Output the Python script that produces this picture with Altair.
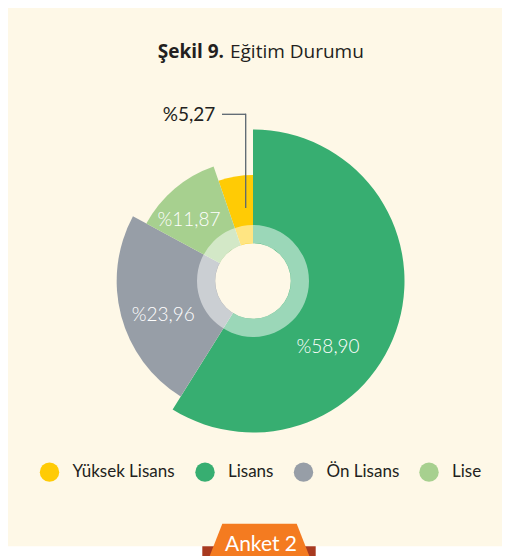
import altair as alt
import pandas as pd

categories = ["Yüksek Lisans", "Lisans", "Ön Lisans", "Lise"]
values = [5.27, 58.90, 23.96, 11.87]
labels = ["%5,27", "%58,90", "%23,96", "%11,87"]
colors = ["#FFCB05", "#37AE71", "#979EA7", "#A7D08F"]

df = pd.DataFrame({"Kategori": categories, "Değer": values, "Etiket": labels})

CREAM = "#FEF8E7"
CX, CY = 245, 273
W, H = 494, 548
TAU = 6.283185307

one = alt.Data(values=[{}])

base = alt.Chart(df).transform_window(
    rank="rank()", sort=[alt.SortField("Değer", order="ascending")]
).transform_window(
    bitis="sum(Değer)", sort=[alt.SortField("Değer", order="descending")], frame=[None, 0]
).transform_calculate(
    baslangic="datum.bitis - datum['Değer']",
    orta="datum.bitis - datum['Değer'] / 2",
)

theta_scale = alt.Scale(domain=[0, 100], range=[0, TAU])

slices = base.mark_arc(strokeWidth=0).encode(
    theta=alt.Theta("baslangic:Q", scale=theta_scale, stack=None),
    theta2="bitis:Q",
    radius=alt.Radius("rank:Q", stack=None,
                      scale=alt.Scale(type="linear", domain=[1, 4], range=[106, 151.5])),
    radius2=alt.value(0),
    color=alt.Color(
        "Kategori:N",
        scale=alt.Scale(domain=categories, range=colors),
        legend=alt.Legend(
            title=None, orient="none", direction="horizontal",
            legendX=31.5, legendY=454, padding=0,
            symbolType="circle", symbolSize=376, symbolStrokeWidth=0, symbolOpacity=1,
            labelFont="Lato", labelFontSize=17, labelColor="#231F20",
            labelOffset=13, columnPadding=19.5,
        ),
    ),
    x=alt.value(CX), y=alt.value(CY),
)

ring = alt.Chart(one).mark_arc(
    radius=56, radius2=38, theta=0, theta2=TAU, fill="white", opacity=0.5
).encode(x=alt.value(CX), y=alt.value(CY))

hole = alt.Chart(one).mark_arc(
    radius=37.8, theta=0, theta2=TAU, fill=CREAM
).encode(x=alt.value(CX), y=alt.value(CY))


def label_layer(cat, r, toff, color, weight):
    return base.transform_filter(
        f"datum.Kategori == '{cat}'"
    ).mark_text(
        radius=r, thetaOffset=toff, font="Lato", fontSize=19, fontWeight=weight,
        color=color, align="center", baseline="middle",
    ).encode(
        theta=alt.Theta("orta:Q", scale=theta_scale, stack=None),
        text="Etiket:N", x=alt.value(CX), y=alt.value(CY),
    )


lab_lisans = label_layer("Lisans", 100, 0.442, "white", 300)
lab_on = label_layer("Ön Lisans", 96, -0.103, "white", 300)
lab_lise = label_layer("Lise", 88.4, -0.106, "white", 300)
lab_yl = label_layer("Yüksek Lisans", 178, -0.202, "#231F20", 400)

call_h = alt.Chart(one).mark_rule(color="#5B6670", strokeWidth=1.3).encode(
    x=alt.value(214), x2=alt.value(238), y=alt.value(106.3)
)
call_v = alt.Chart(one).mark_rule(color="#5B6670", strokeWidth=1.3).encode(
    x=alt.value(237.7), y=alt.value(105.7), y2=alt.value(200)
)

title_b = alt.Chart(one).mark_text(
    text="Şekil 9.", font="Open Sans", fontSize=19, fontWeight="bold",
    color="#231F20", align="right", baseline="alphabetic",
).encode(x=alt.value(216), y=alt.value(49.7))
title_n = alt.Chart(one).mark_text(
    text="Eğitim Durumu", font="Open Sans", fontSize=19, fontWeight="normal",
    color="#231F20", align="left", baseline="alphabetic",
).encode(x=alt.value(222), y=alt.value(49.7))

white_strip = alt.Chart(one).mark_rect(color="white").encode(
    x=alt.value(0), x2=alt.value(W), y=alt.value(538.3), y2=alt.value(H)
)
red_band = alt.Chart(one).mark_rect(color="#A83A1F").encode(
    x=alt.value(194.3), x2=alt.value(307.7), y=alt.value(538.3), y2=alt.value(H)
)
tab = alt.Chart(one).mark_point(
    shape="M-0.744,-0.326L0.744,-0.326L1.028,0.4L-1.028,0.4Z",
    size=10000, filled=True, fill="#F47B20", opacity=1, strokeWidth=0,
).encode(x=alt.value(251.5), y=alt.value(532))
tab_text = alt.Chart(one).mark_text(
    text="Anket 2", font="Lato", fontSize=21, fontWeight=400, color="white",
    align="center", baseline="alphabetic",
).encode(x=alt.value(253), y=alt.value(543.3))

chart = alt.layer(
    slices, ring, hole, lab_lisans, lab_on, lab_lise, lab_yl,
    call_h, call_v, title_b, title_n,
    white_strip, red_band, tab, tab_text,
).properties(
    width=W, height=H, background=CREAM, padding=0,
    autosize=alt.AutoSizeParams(type="none"),
).configure_view(stroke=None)

chart.save("out.html", embed_options={"renderer": "svg", "actions": False})
